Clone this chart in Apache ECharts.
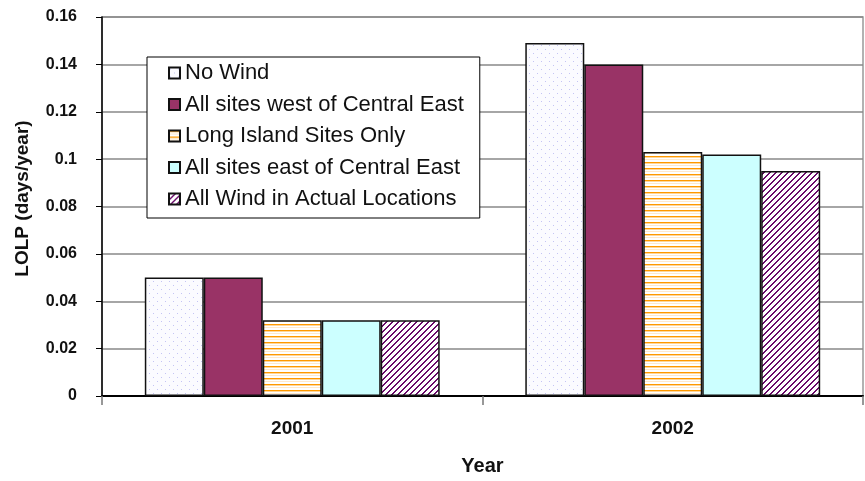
<!DOCTYPE html>
<html><head><meta charset="utf-8">
<script src="https://cdn.jsdelivr.net/npm/echarts@6/dist/echarts.min.js"></script>
<style>html,body{margin:0;padding:0;background:#fff}#c{width:865px;height:481px}</style>
</head><body><div id="c"></div>
<script>
const categories = ['2001', '2002'];
const seriesNames = ['No Wind', 'All sites west of Central East', 'Long Island Sites Only', 'All sites east of Central East', 'All Wind in Actual Locations'];
const noWind = [0.05, 0.149];
const westOfCE = [0.05, 0.14];
const longIsland = [0.032, 0.103];
const eastOfCE = [0.032, 0.102];
const actualLoc = [0.032, 0.095];
const yTicks = [0, 0.02, 0.04, 0.06, 0.08, 0.1, 0.12, 0.14, 0.16];

function mk(w, h, draw) {
  const c = document.createElement('canvas'); c.width = w; c.height = h;
  const g = c.getContext('2d'); draw(g, w, h); return c;
}
const dotPat = mk(8, 8, (g) => {
  g.fillStyle = '#fbfbff'; g.fillRect(0, 0, 8, 8);
  g.fillStyle = '#c4c4f4'; g.fillRect(1, 1, 1, 1); g.fillRect(5, 5, 1, 1);
});
const stripePat = mk(4, 6, (g) => {
  g.fillStyle = '#ffffff'; g.fillRect(0, 0, 4, 6);
  g.fillStyle = '#ff9900'; g.fillRect(0, 0, 4, 1);
  g.fillStyle = '#ffd699'; g.fillRect(0, 1, 4, 1);
  g.fillStyle = '#ffe9cc'; g.fillRect(0, 3, 4, 1);
});
const diagPat = mk(6, 6, (g) => {
  g.fillStyle = '#ffffff'; g.fillRect(0, 0, 6, 6);
  g.fillStyle = '#6a0a6a';
  for (let x = 0; x < 6; x++) {
    for (let k = 0; k < 2; k++) {
      const y = (6 - x - 1 + k + 6) % 6;
      g.fillRect(x, y, 1, 1);
    }
  }
});
const fills = [
  { image: dotPat, repeat: 'repeat' },
  '#993366',
  { image: stripePat, repeat: 'repeat' },
  '#ccffff',
  { image: diagPat, repeat: 'repeat' }
];
const dataSets = [noWind, westOfCE, longIsland, eastOfCE, actualLoc];

const chart = echarts.init(document.getElementById('c'), null, { renderer: 'canvas' });
chart.setOption({
  animation: false,
  backgroundColor: '#fff',
  grid: { left: 102, right: 2, top: 17, bottom: 83, show: true, borderColor: '#999', borderWidth: 1.5, backgroundColor: 'transparent' },
  legend: {
    orient: 'vertical', left: 147, top: 57,
    padding: [5, 16, 8, 21], itemGap: 9.5,
    itemWidth: 11, itemHeight: 11,
    backgroundColor: '#fff', borderColor: '#000', borderWidth: 1,
    textStyle: { fontFamily: 'Liberation Sans, Arial', fontSize: 22, color: '#111', lineHeight: 22 },
    data: seriesNames.map(n => ({ name: n, icon: 'rect' }))
  },
  xAxis: {
    type: 'category', data: categories,
    name: 'Year', nameLocation: 'middle', nameGap: 60,
    nameTextStyle: { fontFamily: 'Liberation Sans, Arial', fontWeight: 'bold', fontSize: 20, color: '#111' },
    axisLine: { lineStyle: { color: '#000', width: 2 } },
    axisTick: { show: true, alignWithLabel: false, length: 9, lineStyle: { color: '#777', width: 1.5 } },
    axisLabel: { margin: 23, fontFamily: 'Liberation Sans, Arial', fontWeight: 'bold', fontSize: 19, color: '#111' }
  },
  yAxis: {
    type: 'value', min: 0, max: 0.16, interval: 0.02,
    name: 'LOLP (days/year)', nameLocation: 'middle', nameGap: 70,
    nameTextStyle: { fontFamily: 'Liberation Sans, Arial', fontWeight: 'bold', fontSize: 19, color: '#111', padding: [0, 0, 0, 16] },
    axisLine: { show: true, lineStyle: { color: '#000', width: 1.5 } },
    axisTick: { show: true, length: 6, lineStyle: { color: '#000', width: 1 } },
    axisLabel: {
      margin: 25, fontFamily: 'Liberation Sans, Arial', fontWeight: 'bold', fontSize: 16, color: '#111',
      formatter: v => { const t = yTicks.find(x => Math.abs(x - v) < 1e-9); return String(t !== undefined ? +t.toFixed(2) : v); }
    },
    splitLine: { lineStyle: { color: '#888', width: 1.5 } }
  },
  series: seriesNames.map((n, i) => ({
    name: n, type: 'bar', data: dataSets[i],
    barGap: '0%', barCategoryGap: '22.5%',
    itemStyle: { color: fills[i], borderColor: '#111', borderWidth: 1.5 }
  }))
});
</script></body></html>
